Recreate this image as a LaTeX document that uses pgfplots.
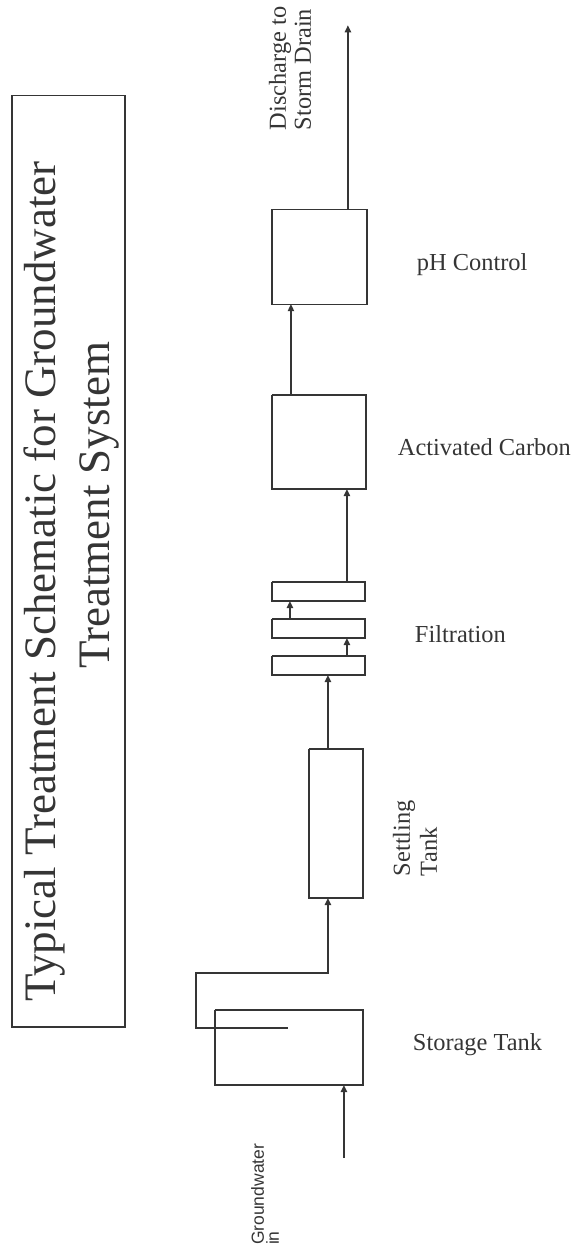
\documentclass[border=0pt]{standalone}
\usepackage{fontspec}
\setmainfont{Liberation Serif}
\newfontfamily\sansf{Liberation Sans}
\usepackage{pgfplots}
\pgfplotsset{compat=1.18}
\usetikzlibrary{arrows.meta}
\definecolor{ink}{HTML}{353535}
\begin{document}
\begin{tikzpicture}
\begin{axis}[
  width=284pt, height=629pt, scale only axis,
  xmin=0, xmax=568, ymin=0, ymax=1258, y dir=reverse,
  hide axis, clip=false,
  ln/.style={ink, line width=0.7pt, mark=none, solid},
  arr/.style={ink, line width=0.7pt, mark=none, solid, -{Triangle[length=3.5pt,width=3.2pt]}},
]
% invisible frame for bounding box
\addplot[draw=none, mark=none] coordinates {(0,0) (568,1258)};
% title box
\addplot[ln] coordinates {(12,95) (125,95) (125,1027) (12,1027) (12,95)};
% boxes
\addplot[ln] coordinates {(272,209) (367,209) (367,304) (272,304) (272,209)};
\addplot[ln] coordinates {(272,395) (366,395) (366,489) (272,489) (272,395)};
\addplot[ln] coordinates {(272,582) (365,582) (365,601) (272,601) (272,582)};
\addplot[ln] coordinates {(272,619) (365,619) (365,638) (272,638) (272,619)};
\addplot[ln] coordinates {(272,656) (365,656) (365,675) (272,675) (272,656)};
\addplot[ln] coordinates {(309,749) (363,749) (363,898) (309,898) (309,749)};
\addplot[ln] coordinates {(215,1010) (363,1010) (363,1085) (215,1085) (215,1010)};
% arrows
\addplot[arr] coordinates {(348,209) (348,25)};
\addplot[arr] coordinates {(291,395) (291,304)};
\addplot[arr] coordinates {(347,582) (347,489)};
\addplot[arr] coordinates {(290,619) (290,601)};
\addplot[arr] coordinates {(347,656) (347,638)};
\addplot[arr] coordinates {(328,749) (328,675)};
\addplot[arr] coordinates {(288,1028) (196,1028) (196,973) (328,973) (328,898)};
\addplot[arr] coordinates {(344,1158) (344,1085)};
% title
\node[rotate=90, anchor=base west, font=\fontsize{22.5}{26}\selectfont, text=ink] at (axis cs:56,1008) {Typical Treatment Schematic for Groundwater};
\node[rotate=90, anchor=base, font=\fontsize{22.5}{26}\selectfont, text=ink] at (axis cs:110,505) {Treatment System};
% labels
\node[rotate=90, anchor=base west, font=\fontsize{12.2}{14}\selectfont, text=ink] at (axis cs:286,137) {Discharge to};
\node[rotate=90, anchor=base west, font=\fontsize{12.2}{14}\selectfont, text=ink] at (axis cs:311,137) {Storm Drain};
\node[anchor=base west, font=\fontsize{12.2}{14}\selectfont, text=ink] at (axis cs:410,270) {pH Control};
\node[anchor=base west, font=\fontsize{12.2}{14}\selectfont, text=ink] at (axis cs:391,455) {Activated Carbon};
\node[anchor=base west, font=\fontsize{12.2}{14}\selectfont, text=ink] at (axis cs:408,642) {Filtration};
\node[rotate=90, anchor=base west, font=\fontsize{12.2}{14}\selectfont, text=ink] at (axis cs:410,883) {Settling};
\node[rotate=90, anchor=base west, font=\fontsize{12.2}{14}\selectfont, text=ink] at (axis cs:437,883) {Tank};
\node[anchor=base west, font=\fontsize{12.2}{14}\selectfont, text=ink] at (axis cs:406,1050) {Storage Tank};
\node[rotate=90, anchor=base west, font=\sansf\fontsize{8.75}{10}\selectfont, text=ink] at (axis cs:264,1252) {Groundwater};
\node[rotate=90, anchor=base west, font=\sansf\fontsize{8.75}{10}\selectfont, text=ink] at (axis cs:279,1252) {in};
\end{axis}
\end{tikzpicture}
\end{document}
